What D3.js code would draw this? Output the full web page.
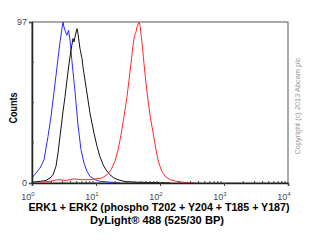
<!DOCTYPE html>
<html>
<head>
<meta charset="utf-8">
<script src="https://cdn.jsdelivr.net/npm/d3@7"></script>
<style>
  body { margin: 0; background: #fff; }
  svg { display: block; font-family: "Liberation Sans", Arial, sans-serif; }
</style>
</head>
<body>
<div id="chart"></div>
<script>
// fluorescence intensity (x) and event counts (y)
var blueX = [1.00, 1.155, 1.334, 1.54, 1.778, 1.98, 2.21, 2.46, 2.74, 2.94, 3.05, 3.16, 3.34, 3.52, 3.72, 3.93, 4.22, 4.70, 5.23, 5.83, 6.49, 7.23, 8.06, 9.64, 11.5, 16.5, 23.7];
var blueY = [3, 6, 9, 14, 28, 40, 55, 70, 85, 93, 97, 94, 91, 89, 92, 86, 73, 55, 35, 20, 12, 7, 4, 2, 1, 0.5, 0];

var blackX = [1.00, 1.334, 1.655, 1.911, 2.13, 2.37, 2.55, 2.84, 3.05, 3.28, 3.52, 3.79, 4.07, 4.37, 4.53, 4.70, 5.05, 5.23, 5.62, 6.04, 6.26, 6.49, 6.98, 7.50, 8.06, 8.66, 9.31, 10.4, 11.5, 12.9, 14.3, 16.5, 19.1, 22.1, 27.4, 40.7, 69.8, 143];
var blackY = [0.5, 1, 1.5, 3, 5, 10, 18, 33, 43, 52, 62, 72, 80, 87, 85, 88, 93, 90, 81, 75, 70, 66, 58, 50, 42, 36, 30, 22, 16, 11, 8, 5, 3, 2, 1, 0.5, 0.3, 0];

var redX = [1.334, 1.911, 2.55, 3.40, 4.53, 6.04, 8.06, 10.0, 12.4, 14.9, 17.2, 19.8, 22.1, 24.6, 27.4, 30.5, 32.8, 35.2, 37.9, 40.0, 42.2, 43.7, 47.0, 48.7, 52.3, 56.2, 60.4, 64.9, 69.8, 75.0, 80.6, 86.6, 93.1, 100, 107, 120, 143, 184, 245, 352];
var redY = [0.5, 1, 2, 1.5, 2.5, 2, 2, 2.5, 3, 5, 8, 13, 20, 29, 40, 52, 62, 72, 83, 89, 91, 94, 97, 95, 85, 72, 60, 50, 41, 34, 27, 20, 14, 10, 7, 4, 2, 1, 0.3, 0];

var xTicks = [1, 10, 100, 1000, 10000];
var xTickExp = ["0", "1", "2", "3", "4"];
var yTicks = [0, 97];
var yMinor = [24.25, 48.5, 72.75];

var series = [
  {name: "blue", x: blueX, y: blueY, color: "#2b2bff"},
  {name: "black", x: blackX, y: blackY, color: "#111111"},
  {name: "red", x: redX, y: redY, color: "#ff2a2a"}
];

const margin = {top: 22, right: 22, bottom: 59, left: 32};
const width = 310 - margin.left - margin.right;
const height = 242 - margin.top - margin.bottom;

var svg = d3.select("#chart").append("svg")
    .attr("width", 310)
    .attr("height", 242)
  .append("g")
    .attr("transform", `translate(${margin.left},${margin.top})`);

var x = d3.scaleLog().domain([1, 10000]).range([0, width]);
var y = d3.scaleLinear().domain([0, 97]).range([height, 0]);

// frame (top and right)
svg.append("rect")
    .attr("width", width)
    .attr("height", height)
    .attr("fill", "none")
    .attr("stroke", "#555")
    .attr("stroke-width", 1);

// curves
var line = d3.line()
    .x(function(d) { return x(d[0]); })
    .y(function(d) { return y(d[1]); });

series.forEach(function(s) {
  svg.append("path")
      .datum(d3.zip(s.x, s.y))
      .attr("fill", "none")
      .attr("stroke", s.color)
      .attr("stroke-width", 1)
      .attr("d", line);
});

// x axis
var xAxis = svg.append("g")
    .attr("transform", "translate(0," + height + ")")
    .call(d3.axisBottom(x).tickValues(xTicks).tickSize(3).tickFormat(""));
xAxis.select(".domain").attr("stroke", "#222").attr("stroke-width", 1.5);
xAxis.selectAll(".tick line").attr("stroke", "#444");

// minor log ticks, pointing up
var minor = [];
for (var dec = 1; dec < 10000; dec *= 10)
  for (var m = 2; m < 10; m++) minor.push(dec * m);
svg.append("g").selectAll("line")
  .data(minor)
  .enter().append("line")
    .attr("x1", function(d) { return x(d); })
    .attr("x2", function(d) { return x(d); })
    .attr("y1", height)
    .attr("y2", height - 2)
    .attr("stroke", "#444");

var xLab = svg.append("g").attr("fill", "#444").attr("font-size", 9);
xTicks.forEach(function(t, i) {
  var tx = xLab.append("text")
      .attr("x", x(t) - 4)
      .attr("y", height + 17)
      .attr("text-anchor", "middle");
  tx.append("tspan").text("10");
  tx.append("tspan").attr("dy", -4).attr("font-size", 6).text(xTickExp[i]);
});

// y axis
var yAxis = svg.append("g")
    .call(d3.axisLeft(y).tickValues(yTicks).tickSize(3).tickPadding(2));
yAxis.select(".domain").attr("stroke", "#222").attr("stroke-width", 1.5);
yAxis.selectAll(".tick line").attr("stroke", "#444");
yAxis.selectAll(".tick text")
    .attr("fill", "#444")
    .attr("font-size", 9)
    .attr("font-family", "Liberation Sans, Arial, sans-serif");

svg.append("g").selectAll("line")
  .data(yMinor)
  .enter().append("line")
    .attr("x1", 0)
    .attr("x2", 2)
    .attr("y1", function(d) { return y(d); })
    .attr("y2", function(d) { return y(d); })
    .attr("stroke", "#444");

// axis titles
svg.append("text")
    .attr("transform", "translate(-15,86) rotate(-90)")
    .attr("text-anchor", "middle")
    .attr("font-size", 11)
    .attr("font-weight", "bold")
    .attr("textLength", 31)
    .attr("lengthAdjust", "spacingAndGlyphs")
    .text("Counts");

svg.append("text")
    .attr("x", 127)
    .attr("y", height + 28)
    .attr("text-anchor", "middle")
    .attr("font-size", 11)
    .attr("font-weight", "bold")
    .attr("textLength", 261)
    .attr("lengthAdjust", "spacingAndGlyphs")
    .text("ERK1 + ERK2 (phospho T202 + Y204 + T185 + Y187)");

svg.append("text")
    .attr("x", 125)
    .attr("y", height + 41)
    .attr("text-anchor", "middle")
    .attr("font-size", 11)
    .attr("font-weight", "bold")
    .attr("textLength", 134)
    .attr("lengthAdjust", "spacingAndGlyphs")
    .text("DyLight® 488 (525/30 BP)");

// copyright note
svg.append("text")
    .attr("transform", "translate(" + (width + 12) + "," + (84) + ") rotate(-90)")
    .attr("text-anchor", "middle")
    .attr("font-size", 7)
    .attr("fill", "#999")
    .attr("textLength", 97)
    .attr("lengthAdjust", "spacingAndGlyphs")
    .text("Copyright (c) 2013 Abcam plc");
</script>
</body>
</html>
